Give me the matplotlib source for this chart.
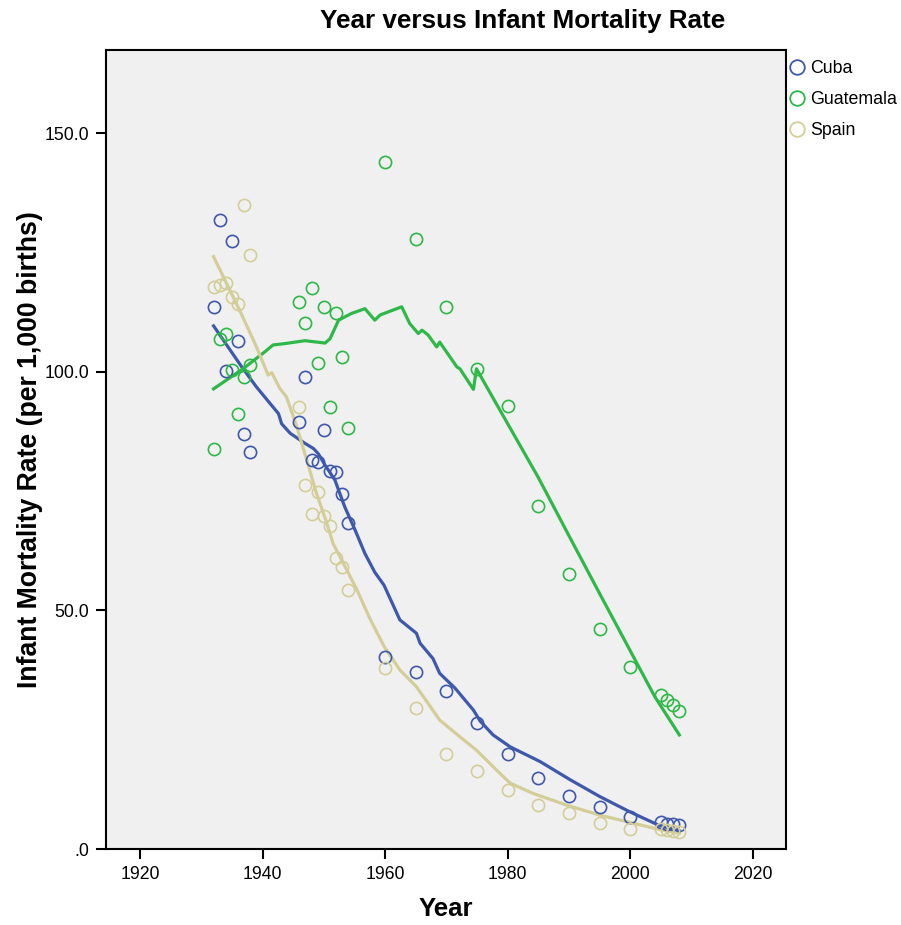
import numpy as np
import matplotlib.pyplot as plt
from matplotlib.lines import Line2D

plt.rcParams['font.family'] = ['Liberation Sans', 'DejaVu Sans']

years = [1932, 1933, 1934, 1935, 1936, 1937, 1938,
         1946, 1947, 1948, 1949, 1950, 1951, 1952, 1953, 1954,
         1960, 1965, 1970, 1975, 1980, 1985, 1990, 1995, 2000,
         2005, 2006, 2007, 2008]

cuba = [113.6, 131.7, 100.2, 127.4, 106.5, 86.9, 83.2,
        89.5, 98.9, 81.5, 81.0, 87.8, 79.2, 78.9, 74.4, 68.4,
        40.2, 37.0, 33.1, 26.5, 19.9, 14.8, 11.0, 8.7, 6.8,
        5.6, 5.3, 5.2, 5.0]
guatemala = [83.9, 106.8, 108.0, 100.4, 91.1, 98.9, 101.4,
             114.7, 110.1, 117.6, 101.9, 113.6, 92.6, 112.3, 103.1, 88.1,
             144.0, 127.7, 113.5, 100.6, 92.8, 71.8, 57.6, 46.1, 38.1,
             32.3, 31.2, 30.2, 29.0]
spain = [117.7, 118.1, 118.6, 115.6, 114.2, 134.9, 124.4,
         92.5, 76.2, 70.1, 74.7, 69.8, 67.7, 61.0, 59.0, 54.3,
         37.9, 29.6, 20.0, 16.3, 12.4, 9.2, 7.5, 5.5, 4.2,
         4.1, 3.9, 3.8, 3.6]

# smoothed fit lines (loess), sampled along each curve
cuba_fit_x = [1932, 1936.6, 1939, 1942.6, 1943.1, 1944.5, 1946.9, 1948.3, 1949.1,
              1950.2, 1951.8, 1953.4, 1955.1, 1956.7, 1958.3, 1959.8, 1962.4,
              1965.1, 1965.7, 1967.8, 1968.9, 1971.4, 1974.4, 1975.5, 1977.6,
              1980.4, 1985.3, 1990.2, 1995, 1999.9, 2004.6, 2008]
cuba_fit_y = [109.6, 101.0, 96.8, 91.2, 89.1, 87.1, 85.0, 83.9, 82.8,
              80.4, 77.3, 71.7, 66.8, 61.9, 58.0, 55.3, 48.0,
              45.2, 43.1, 39.9, 36.8, 33.7, 29.1, 26.8, 23.9,
              21.4, 18.3, 14.5, 11.0, 7.8, 5.0, 3.8]

guat_fit_x = [1932, 1936.9, 1940.4, 1941.7, 1943.7, 1946.9, 1950.2, 1951,
              1952.4, 1954.5, 1956.7, 1958.3, 1959.2, 1962.7, 1964, 1965.4,
              1966, 1967, 1968.4, 1968.9, 1971.7, 1972.2, 1974.4, 1974.9,
              1979.5, 1985, 1990, 1995, 2000, 2004, 2008]
guat_fit_y = [96.4, 100.7, 104.2, 105.6, 105.9, 106.5, 106.0, 106.9,
              110.8, 112.2, 113.2, 110.8, 111.9, 113.6, 110.1, 108.0,
              108.7, 107.7, 105.2, 106.2, 101.0, 100.6, 96.3, 100.6,
              90.2, 77.8, 65.6, 53.5, 41.5, 31.9, 23.9]

spain_fit_x = [1932, 1936.5, 1939, 1940.9, 1941.5, 1942.8, 1943.9, 1945.6,
               1947.2, 1948.8, 1950.5, 1951.5, 1953.2, 1955.4, 1957.5, 1959.8,
               1962.4, 1965.1, 1968.9, 1972.2, 1974.9, 1978.2, 1980.4, 1984.2,
               1989.6, 1995, 2000.5, 2005, 2008]
spain_fit_y = [124.1, 112.2, 105.2, 99.3, 99.8, 96.5, 94.7, 88.4,
               81.5, 74.5, 68.2, 64.0, 59.8, 54.3, 48.3, 42.5,
               37.5, 34.0, 27.0, 23.5, 20.7, 16.5, 13.8, 11.6,
               9.2, 7.1, 5.4, 4.0, 3.3]

names = ['Cuba', 'Guatemala', 'Spain']
colors = ['#3e58ac', '#2eb848', '#d3ce97']

fig = plt.figure(figsize=(9.01, 9.25), dpi=100)
ax = fig.add_axes([106/901, 76/925, 680/901, 799/925])
ax.set_facecolor('#f0f0f0')

series = [(cuba, cuba_fit_x, cuba_fit_y),
          (guatemala, guat_fit_x, guat_fit_y),
          (spain, spain_fit_x, spain_fit_y)]

handles = []
for (vals, fx, fy), name, c in zip(series, names, colors):
    ax.plot(years, vals, 'o', mfc='none', mec=c, ms=8.8, mew=1.2, zorder=3)
    ax.plot(fx, fy, '-', color=c, lw=2.3, zorder=2)
    handles.append(Line2D([], [], ls='none', marker='o', mfc='none', mec=c,
                          ms=10.5, mew=1.3, label=name))

ax.set_xlim(1914.45, 2025.4)
ax.set_ylim(0, 167.4)
ax.set_xticks([1920, 1940, 1960, 1980, 2000, 2020])
ax.set_yticks([0, 50, 100, 150])
ax.set_yticklabels(['.0', '50.0', '100.0', '150.0'])
ax.tick_params(labelsize=12.7, length=7, width=1.5, color='black', pad=5)
for s in ax.spines.values():
    s.set_color('black')
    s.set_linewidth(1.5)

fig.text(523/901, 1 - 21/925, 'Year versus Infant Mortality Rate',
         ha='center', va='center', fontsize=18.8, fontweight='bold')
fig.text(446/901, 1 - 909/925, 'Year', ha='center', va='center',
         fontsize=18.5, fontweight='bold')
fig.text(30/901, 1 - 450/925, 'Infant Mortality Rate (per 1,000 births)',
         ha='center', va='center', rotation=90, fontsize=19.2, fontweight='bold')

fig.legend(handles=handles, loc='upper left',
           bbox_to_anchor=(788/901, 1 - 60/925), frameon=False,
           fontsize=12.8, handlelength=1.0, handletextpad=0.25,
           borderpad=0, borderaxespad=0, labelspacing=0.8)

fig.savefig('out.png', dpi=100)
